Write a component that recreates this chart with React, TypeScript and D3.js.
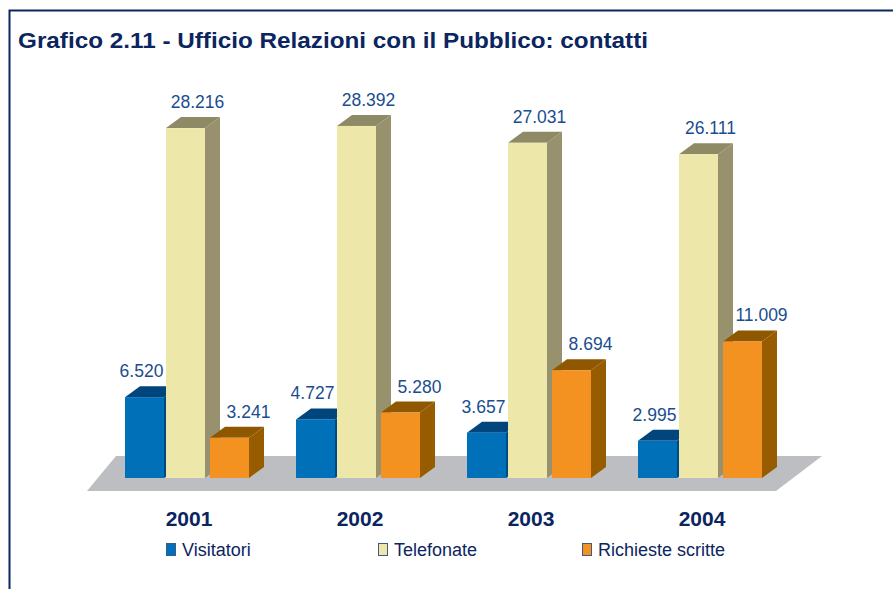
import React from "react";
import * as d3 from "d3";

const years = ["2001", "2002", "2003", "2004"];
const seriesNames = ["Visitatori", "Telefonate", "Richieste scritte"];
const visitatori = [6520, 4727, 3657, 2995];
const telefonate = [28216, 28392, 27031, 26111];
const richieste = [3241, 5280, 8694, 11009];
const seriesValues = [visitatori, telefonate, richieste];

const W = 893;
const H = 589;
const NAVY = "#0b2560";
const LABEL = "#1a4d8f";
const colors = [
  { front: "#0070b9", top: "#00467d", side: "#004a82" },
  { front: "#ede8a9", top: "#8e8a66", side: "#97926d" },
  { front: "#f39220", top: "#8f5700", side: "#975b00" },
];

const fmt = (v: number) => d3.format(",")(v).replace(/,/g, ".");

export default function App() {
  const barW = 39;
  const dx = 15;
  const dy = 11;
  const x0 = d3.scalePoint<string>().domain(years).range([125, 638]);
  const xs = d3.scaleOrdinal<string, number>().domain(seriesNames).range([0, 41, 85]);
  const y = d3.scaleLinear().domain([0, 30000]).range([478, 478 - 372]);
  const labelShift = [-3, 12, 19];

  const floor: [number, number][] = [
    [87, 491],
    [776, 491],
    [822, 456],
    [116, 456],
  ];
  const line = d3.line();

  return (
    <svg width={W} height={H} style={{ position: "absolute", left: 0, top: 0 }}>
      <rect x={0} y={0} width={W} height={H} fill="#fff" />
      <path d={`M9.5,${H} L9.5,10.5 L${W},10.5`} fill="none" stroke={NAVY} strokeWidth={2} />
      <text
        x={18}
        y={48}
        fontFamily="Liberation Sans, Arial, sans-serif"
        fontWeight="bold"
        fontSize={22}
        fill={NAVY}
        textLength={630}
        lengthAdjust="spacingAndGlyphs"
      >
        Grafico 2.11 - Ufficio Relazioni con il Pubblico: contatti
      </text>
      <path d={line(floor) + "Z"} fill="#bdbec1" />
      {years.map((yr, gi) => (
        <g key={yr}>
          {seriesNames.map((s, si) => {
            const v = seriesValues[si][gi];
            const xl = (x0(yr) as number) + xs(s);
            const yt = y(v);
            const yb = y(0);
            const c = colors[si];
            const top: [number, number][] = [
              [xl, yt],
              [xl + barW, yt],
              [xl + barW + dx, yt - dy],
              [xl + dx, yt - dy],
            ];
            const side: [number, number][] = [
              [xl + barW, yt],
              [xl + barW + dx, yt - dy],
              [xl + barW + dx, yb - dy],
              [xl + barW, yb],
            ];
            return (
              <g key={s}>
                <path d={line(side) + "Z"} fill={c.side} />
                <path d={line(top) + "Z"} fill={c.top} />
                <rect x={xl} y={yt} width={barW} height={yb - yt} fill={c.front} />
              </g>
            );
          })}
        </g>
      ))}
      {years.map((yr, gi) =>
        seriesNames.map((s, si) => {
          const v = seriesValues[si][gi];
          const xl = (x0(yr) as number) + xs(s);
          return (
            <text
              key={yr + s}
              x={xl + barW / 2 + labelShift[si]}
              y={y(v) - dy - 9}
              textAnchor="middle"
              fontFamily="Liberation Sans, Arial, sans-serif"
              fontSize={17.5}
              fill={LABEL}
            >
              {fmt(v)}
            </text>
          );
        })
      )}
      {years.map((yr) => (
        <text
          key={"yl" + yr}
          x={(x0(yr) as number) + 64}
          y={526}
          textAnchor="middle"
          fontFamily="Liberation Sans, Arial, sans-serif"
          fontWeight="bold"
          fontSize={21}
          fill={NAVY}
        >
          {yr}
        </text>
      ))}
      {seriesNames.map((s, si) => {
        const lx = [166, 378, 582][si];
        return (
          <g key={"lg" + s}>
            <rect x={lx + 0.5} y={543.5} width={9} height={12} fill={colors[si].front} stroke="#3d5a8a" strokeWidth={1} />
            <text
              x={lx + 16}
              y={556}
              fontFamily="Liberation Sans, Arial, sans-serif"
              fontSize={18}
              fill={NAVY}
            >
              {s}
            </text>
          </g>
        );
      })}
    </svg>
  );
}
